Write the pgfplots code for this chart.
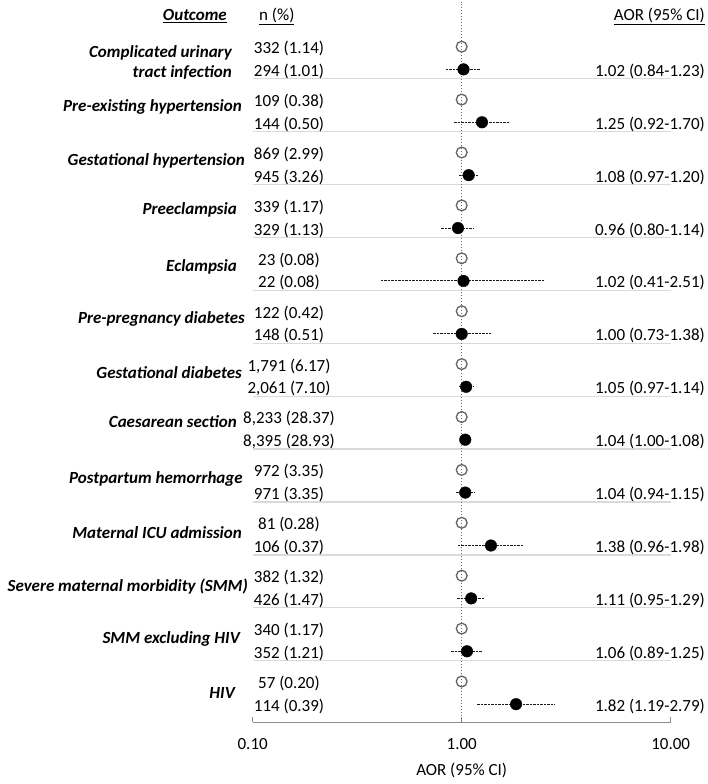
\documentclass[border=0pt]{standalone}
\usepackage{pgfplots}
\pgfplotsset{compat=1.18}
\usepackage{pgfplotstable}
\usepackage{fontspec}
\setmainfont{Carlito}
\definecolor{axisgray}{RGB}{140,140,140}
\definecolor{sepgray}{RGB}{218,218,218}
\definecolor{refgray}{RGB}{100,100,100}
\definecolor{vgray}{RGB}{110,110,110}
\newcommand\txt{\fontsize{17}{20}\selectfont}
\newcommand\lbl{\fontsize{17}{20}\selectfont\bfseries\itshape}

% y positions (pt, bottom-up); ref = reference row (open circle), y = exposed row
\pgfplotstableread{
y     aor   lo    hi    ref   yref
714.6 1.02  0.84  1.23  1.00  737.3
661.7 1.25  0.92  1.70  1.00  684.4
608.8 1.08  0.97  1.20  1.00  631.5
555.9 0.96  0.80  1.14  1.00  578.6
503.0 1.02  0.41  2.51  1.00  525.7
450.1 1.00  0.73  1.38  1.00  472.8
397.2 1.05  0.97  1.14  1.00  419.9
344.3 1.04  1.00  1.08  1.00  367.0
291.4 1.04  0.94  1.15  1.00  314.1
238.5 1.38  0.96  1.98  1.00  261.2
185.6 1.11  0.95  1.29  1.00  208.3
132.7 1.06  0.89  1.25  1.00  155.4
79.8  1.82  1.19  2.79  1.00  102.5
}\aortable

\begin{document}
\begin{tikzpicture}
\useasboundingbox (0,0) rectangle (708pt,784pt);
\begin{axis}[
  at={(252.7pt,61.7pt)}, anchor=south west,
  scale only axis, width=418pt, height=720.3pt,
  xmode=log, xmin=0.1, xmax=10, ymin=61.7, ymax=782,
  axis x line*=bottom, axis y line*=left,
  x axis line style={draw=axisgray, line width=1pt},
  y axis line style={draw=none},
  xtick={0.1,1,10}, xticklabels={0.10,1.00,10.00},
  xminorticks=false,
  tick align=inside, major tick length=5pt,
  xtick style={draw=axisgray, line width=1pt},
  ytick={705.2,652.3,599.4,546.5,493.6,440.7,387.8,334.9,282.0,229.1,176.2,123.3},
  yticklabels={}, ytick style={draw=none},
  ymajorgrids, major grid style={draw=sepgray, line width=1.3pt},
  xticklabel style={font=\txt, anchor=base, yshift=-27.2pt},
  xlabel={AOR (95\% CI)},
  xlabel style={font=\txt, at={(axis description cs:0.5,0)}, anchor=base, yshift=-53.2pt},
  clip=false,
]
\draw[vgray, line width=1pt, dash pattern=on 1.5pt off 1.5pt] (axis cs:1,61.7) -- (axis cs:1,782);
\pgfplotsset{cistyle/.style={black!90, line width=1pt, dash pattern=on 2.5pt off 1pt, forget plot}}
\addplot[cistyle] coordinates {(0.84,714.6) (1.23,714.6)};
\addplot[cistyle] coordinates {(0.92,661.7) (1.70,661.7)};
\addplot[cistyle] coordinates {(0.97,608.8) (1.20,608.8)};
\addplot[cistyle] coordinates {(0.80,555.9) (1.14,555.9)};
\addplot[cistyle] coordinates {(0.41,503.0) (2.51,503.0)};
\addplot[cistyle] coordinates {(0.73,450.1) (1.38,450.1)};
\addplot[cistyle] coordinates {(0.97,397.2) (1.14,397.2)};
\addplot[cistyle] coordinates {(1.00,344.3) (1.08,344.3)};
\addplot[cistyle] coordinates {(0.94,291.4) (1.15,291.4)};
\addplot[cistyle] coordinates {(0.96,238.5) (1.98,238.5)};
\addplot[cistyle] coordinates {(0.95,185.6) (1.29,185.6)};
\addplot[cistyle] coordinates {(0.89,132.7) (1.25,132.7)};
\addplot[cistyle] coordinates {(1.19,79.8) (2.79,79.8)};
\addplot[only marks, mark=o, mark size=5.4pt, mark options={draw=refgray, line width=1.3pt, fill=none}] table[x=ref, y=yref] \aortable;
\addplot[only marks, mark=*, mark size=5.8pt, mark options={draw=black, fill=black}] table[x=aor, y=y] \aortable;
\end{axis}

\begin{scope}[shift={(0pt,784pt)}, x=1pt, y=-1pt, every node/.style={inner sep=0pt, font=\txt}]
% headers
\node[anchor=base east, font=\lbl] at (227,20.5) {\underline{Outcome}};
\node[anchor=base west] at (259,20.5) {\underline{n (\%)}};
\node[anchor=base east] at (705,20.5) {\underline{AOR (95\% CI)}};
% outcome labels
\node[anchor=base east, font=\lbl] at (232,57.2) {Complicated urinary};
\node[anchor=base east, font=\lbl] at (232,77.2) {tract infection};
\node[anchor=base east, font=\lbl] at (242,111.5) {Pre-existing hypertension};
\node[anchor=base east, font=\lbl] at (245,165.5) {Gestational hypertension};
\node[anchor=base east, font=\lbl] at (237,214.8) {Preeclampsia};
\node[anchor=base east, font=\lbl] at (237,271.5) {Eclampsia};
\node[anchor=base east, font=\lbl] at (245,323.5) {Pre-pregnancy diabetes};
\node[anchor=base east, font=\lbl] at (242,378.2) {Gestational diabetes};
\node[anchor=base east, font=\lbl] at (237,427.8) {Caesarean section};
\node[anchor=base east, font=\lbl] at (243,483.8) {Postpartum hemorrhage};
\node[anchor=base east, font=\lbl] at (242,538.2) {Maternal ICU admission};
\node[anchor=base east, font=\lbl] at (248,591.5) {Severe maternal morbidity (SMM)};
\node[anchor=base east, font=\lbl] at (240,643.8) {SMM excluding HIV};
\node[anchor=base east, font=\lbl] at (235,698.2) {HIV};
% n (%)
\node[anchor=base] at (289,53.7) {332 (1.14)};
\node[anchor=base] at (289,76.4) {294 (1.01)};
\node[anchor=base] at (289,106.6) {109 (0.38)};
\node[anchor=base] at (289,129.3) {144 (0.50)};
\node[anchor=base] at (289,159.5) {869 (2.99)};
\node[anchor=base] at (289,182.2) {945 (3.26)};
\node[anchor=base] at (289,212.4) {339 (1.17)};
\node[anchor=base] at (289,235.1) {329 (1.13)};
\node[anchor=base] at (289,265.3) {23 (0.08)};
\node[anchor=base] at (289,288.0) {22 (0.08)};
\node[anchor=base] at (289,318.2) {122 (0.42)};
\node[anchor=base] at (289,340.9) {148 (0.51)};
\node[anchor=base] at (289,371.1) {1,791 (6.17)};
\node[anchor=base] at (289,393.8) {2,061 (7.10)};
\node[anchor=base] at (289,424.0) {8,233 (28.37)};
\node[anchor=base] at (289,446.7) {8,395 (28.93)};
\node[anchor=base] at (289,476.9) {972 (3.35)};
\node[anchor=base] at (289,499.6) {971 (3.35)};
\node[anchor=base] at (289,529.8) {81 (0.28)};
\node[anchor=base] at (289,552.5) {106 (0.37)};
\node[anchor=base] at (289,582.7) {382 (1.32)};
\node[anchor=base] at (289,605.4) {426 (1.47)};
\node[anchor=base] at (289,635.6) {340 (1.17)};
\node[anchor=base] at (289,658.3) {352 (1.21)};
\node[anchor=base] at (289,688.5) {57 (0.20)};
\node[anchor=base] at (289,711.2) {114 (0.39)};
% AOR (95% CI)
\node[anchor=base east] at (705,76.4) {1.02 (0.84-1.23)};
\node[anchor=base east] at (705,129.3) {1.25 (0.92-1.70)};
\node[anchor=base east] at (705,182.2) {1.08 (0.97-1.20)};
\node[anchor=base east] at (705,235.1) {0.96 (0.80-1.14)};
\node[anchor=base east] at (705,288.0) {1.02 (0.41-2.51)};
\node[anchor=base east] at (705,340.9) {1.00 (0.73-1.38)};
\node[anchor=base east] at (705,393.8) {1.05 (0.97-1.14)};
\node[anchor=base east] at (705,446.7) {1.04 (1.00-1.08)};
\node[anchor=base east] at (705,499.6) {1.04 (0.94-1.15)};
\node[anchor=base east] at (705,552.5) {1.38 (0.96-1.98)};
\node[anchor=base east] at (705,605.4) {1.11 (0.95-1.29)};
\node[anchor=base east] at (705,658.3) {1.06 (0.89-1.25)};
\node[anchor=base east] at (705,711.2) {1.82 (1.19-2.79)};
\end{scope}
\end{tikzpicture}
\end{document}
